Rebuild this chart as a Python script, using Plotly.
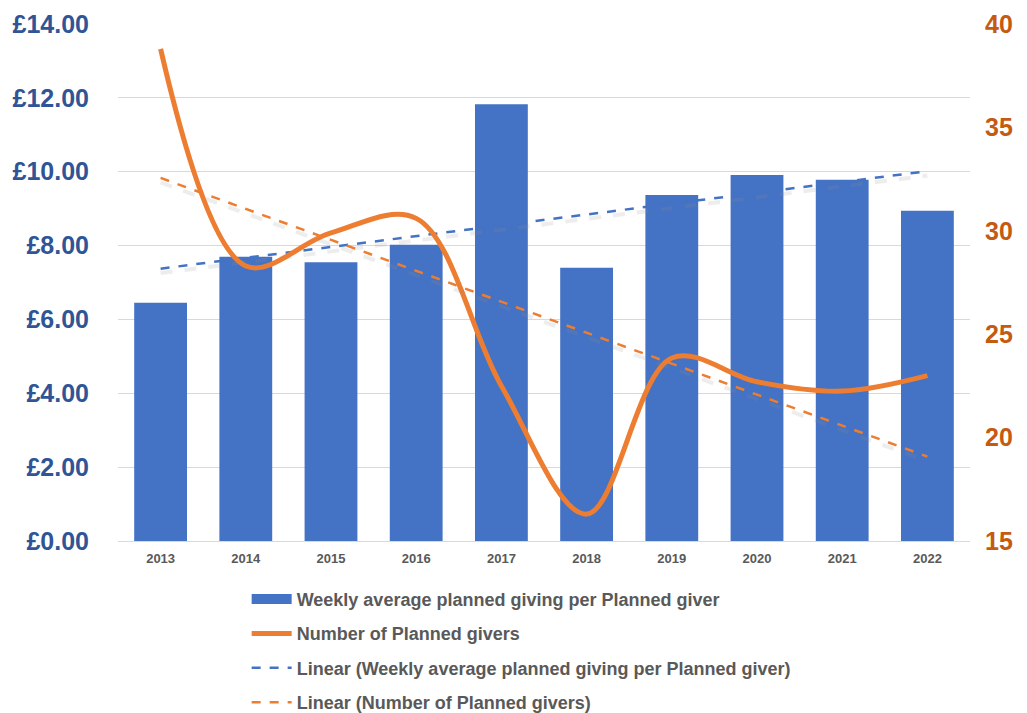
import numpy as np
import plotly.graph_objects as go

years = ["2013", "2014", "2015", "2016", "2017", "2018", "2019", "2020", "2021", "2022"]
weekly_avg = [6.45, 7.70, 7.55, 8.02, 11.83, 7.40, 9.37, 9.91, 9.78, 8.94]
num_givers = [38.8, 28.3, 29.9, 30.6, 22.5, 16.3, 23.85, 22.7, 22.25, 23.0]

left_ticks = [0, 2, 4, 6, 8, 10, 12, 14]
left_labels = ["£0.00", "£2.00", "£4.00", "£6.00", "£8.00", "£10.00", "£12.00", "£14.00"]
right_ticks = [15, 20, 25, 30, 35, 40]

idx = np.arange(len(years))
b1 = np.polyfit(idx, weekly_avg, 1)
b2 = np.polyfit(idx, num_givers, 1)
trend_avg = np.polyval(b1, idx)
trend_num = np.polyval(b2, idx)

BLUE = "#4472C4"
ORANGE = "#ED7D31"

fig = go.Figure()
fig.add_trace(go.Bar(x=years, y=weekly_avg, name="Weekly average planned giving per Planned giver",
                     marker=dict(color=BLUE, line=dict(width=0)), width=0.62, showlegend=False))
# legend entry for the bars (wide rectangle swatch)
fig.add_trace(go.Scatter(x=[None], y=[None], mode="lines", name="Weekly average planned giving per Planned giver",
                         line=dict(color=BLUE, width=11), legendgroup="a", hoverinfo="skip"))
fig.add_trace(go.Scatter(x=years, y=num_givers, name="Number of Planned givers", yaxis="y2",
                         mode="lines", line=dict(color=ORANGE, width=5, shape="spline", smoothing=1.0),
                         legendgroup="b"))
# soft shadows of trendlines
fig.add_trace(go.Scatter(x=years, y=trend_avg - 0.12, mode="lines", showlegend=False, hoverinfo="skip",
                         line=dict(color="rgba(140,140,140,0.16)", width=4, dash="dash")))
fig.add_trace(go.Scatter(x=years, y=trend_num - 0.22, mode="lines", showlegend=False, hoverinfo="skip", yaxis="y2",
                         line=dict(color="rgba(140,140,140,0.16)", width=4, dash="dash")))
fig.add_trace(go.Scatter(x=years, y=trend_avg, name="Linear (Weekly average planned giving per Planned giver)",
                         mode="lines", line=dict(color=BLUE, width=2.5, dash="dash"), legendgroup="c"))
fig.add_trace(go.Scatter(x=years, y=trend_num, name="Linear (Number of Planned givers)", yaxis="y2",
                         mode="lines", line=dict(color=ORANGE, width=2.5, dash="dash"), legendgroup="d"))

fig.update_layout(
    width=1019, height=705,
    margin=dict(l=110, r=57, t=16, b=172, autoexpand=False),
    paper_bgcolor="white", plot_bgcolor="white",
    xaxis=dict(type="category", showgrid=False, showline=True, linecolor="#D9D9D9", automargin=False,
               tickfont=dict(family="Liberation Sans", size=13, color="#595959", weight="bold"),
               ticks="", ticklabelstandoff=5),
    yaxis=dict(range=[0, 14], tickvals=left_ticks, ticktext=left_labels, showgrid=True, automargin=False,
               gridcolor="#D9D9D9", zeroline=False, ticklabeloverflow="allow",
               tickfont=dict(family="Liberation Sans", size=25, color="#2F5597", weight="bold"),
               ticklabelstandoff=28),
    yaxis2=dict(range=[15, 40], tickvals=right_ticks, overlaying="y", side="right", showgrid=False,
                zeroline=False, automargin=False, ticklabeloverflow="allow",
                tickfont=dict(family="Liberation Sans", size=25, color="#C55A11", weight="bold"),
                ticklabelstandoff=14),
    legend=dict(orientation="v", x=0.151, xanchor="left", y=-0.077, yanchor="top",
                font=dict(family="Liberation Sans", size=18, color="#595959", weight="bold"),
                tracegroupgap=8, itemwidth=40, traceorder="grouped"),
    showlegend=True,
)

fig.write_html("out.html")
